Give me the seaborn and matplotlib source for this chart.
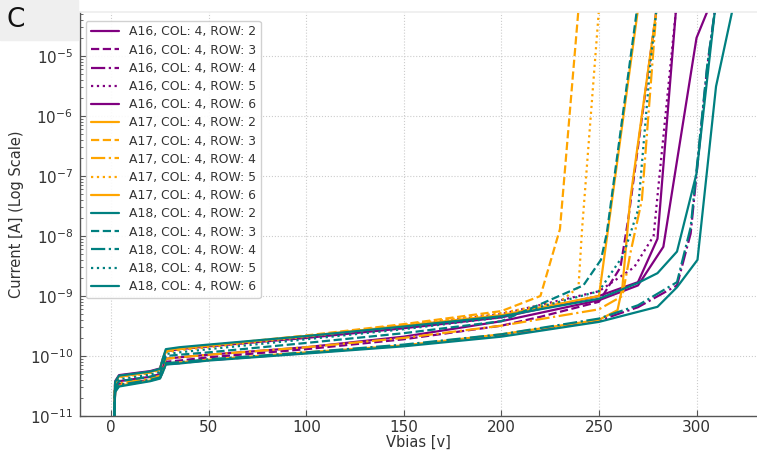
import matplotlib
matplotlib.use("Agg")
import matplotlib.pyplot as plt
import numpy as np
import pandas as pd
import seaborn as sns

# shared low-voltage sampling (V)
V_LOW = [1.5, 2, 4, 20, 25, 26.5, 28, 35, 50, 100, 150, 200]

# currents (A), low part + breakdown tail per curve
A16_R2_LOW = [8e-12, 3.8e-11, 4.8e-11, 5.6e-11, 6.2e-11, 9e-11, 1.2e-10, 1.3e-10, 1.45e-10, 2.0e-10, 2.9e-10, 4.4e-10]
A16_R2_TV = [250, 270, 280, 289.5]
A16_R2_TI = [1.0e-9, 1.7e-9, 9e-9, 6e-5]

A16_R3_LOW = [8e-12, 2.8e-11, 3.4e-11, 4.0e-11, 4.5e-11, 6e-11, 8e-11, 8.4e-11, 9.5e-11, 1.3e-10, 1.9e-10, 3.2e-10]
A16_R3_TV = [220, 250, 261, 265, 279.5]
A16_R3_TI = [4.5e-10, 8e-10, 3e-9, 1.9e-8, 6e-5]

A16_R4_LOW = [8e-12, 2.6e-11, 3.2e-11, 3.9e-11, 4.3e-11, 5.5e-11, 7.3e-11, 7.6e-11, 8.5e-11, 1.12e-10, 1.5e-10, 2.2e-10]
A16_R4_TV = [250, 270, 290, 297, 305.5, 309.5]
A16_R4_TI = [3.9e-10, 6.5e-10, 1.5e-9, 1.1e-8, 6.6e-6, 6e-5]

A16_R5_LOW = [8e-12, 3.6e-11, 4.6e-11, 5.4e-11, 6.0e-11, 8.8e-11, 1.2e-10, 1.3e-10, 1.45e-10, 2.1e-10, 3.2e-10, 5.0e-10]
A16_R5_TV = [250, 268, 278, 281, 289.5]
A16_R5_TI = [1.2e-9, 3e-9, 1e-8, 1e-7, 6e-5]

A16_R6_LOW = [8e-12, 3.0e-11, 3.8e-11, 4.5e-11, 5.0e-11, 6.5e-11, 9e-11, 9.5e-11, 1.05e-10, 1.4e-10, 2.1e-10, 3.8e-10]
A16_R6_TV = [250, 270, 283, 300, 306]
A16_R6_TI = [8.5e-10, 1.5e-9, 6.6e-9, 2e-5, 6e-5]

A17_R2_LOW = [8e-12, 3.6e-11, 4.6e-11, 5.4e-11, 6.0e-11, 9e-11, 1.25e-10, 1.35e-10, 1.5e-10, 2.15e-10, 3.2e-10, 4.8e-10]
A17_R2_TV = [250, 270]
A17_R2_TI = [1.0e-9, 6e-5]

A17_R3_LOW = [8e-12, 3.5e-11, 4.5e-11, 5.3e-11, 5.9e-11, 8.8e-11, 1.2e-10, 1.3e-10, 1.5e-10, 2.2e-10, 3.4e-10, 5.6e-10]
A17_R3_TV = [220, 230, 239.5]
A17_R3_TI = [1.0e-9, 1.3e-8, 6e-5]

A17_R4_LOW = [8e-12, 2.8e-11, 3.5e-11, 4.2e-11, 4.7e-11, 6.5e-11, 9e-11, 9.5e-11, 1.05e-10, 1.4e-10, 2.0e-10, 3.2e-10]
A17_R4_TV = [250, 262, 266, 272, 279.5]
A17_R4_TI = [6e-10, 1.0e-9, 5e-9, 4e-8, 6e-5]

A17_R5_LOW = [8e-12, 3.4e-11, 4.4e-11, 5.2e-11, 5.8e-11, 8.5e-11, 1.15e-10, 1.25e-10, 1.4e-10, 2.1e-10, 3.3e-10, 5.2e-10]
A17_R5_TV = [230, 239.5, 241.3, 250]
A17_R5_TI = [8e-10, 1.4e-9, 1.25e-8, 6e-5]

A17_R6_LOW = [8e-12, 2.6e-11, 3.2e-11, 3.9e-11, 4.3e-11, 5.6e-11, 7.5e-11, 7.8e-11, 8.7e-11, 1.15e-10, 1.5e-10, 2.3e-10]
A17_R6_TV = [250, 259.5, 262, 266, 279.5]
A17_R6_TI = [4.0e-10, 5.8e-10, 1.4e-9, 4e-8, 6e-5]

A18_R2_LOW = [8e-12, 3.7e-11, 4.7e-11, 5.5e-11, 6.1e-11, 9.2e-11, 1.3e-10, 1.4e-10, 1.55e-10, 2.15e-10, 3.1e-10, 4.6e-10]
A18_R2_TV = [250, 270, 280, 290, 300, 309.5]
A18_R2_TI = [9e-10, 1.65e-9, 2.4e-9, 5.5e-9, 1.1e-7, 6e-5]

A18_R3_LOW = [8e-12, 3.0e-11, 3.8e-11, 4.5e-11, 5.0e-11, 7e-11, 1.0e-10, 1.05e-10, 1.15e-10, 1.65e-10, 2.4e-10, 3.8e-10]
A18_R3_TV = [242, 251, 254, 269.5]
A18_R3_TI = [1.5e-9, 4e-9, 1.1e-8, 6e-5]

A18_R4_LOW = [8e-12, 2.7e-11, 3.3e-11, 4.0e-11, 4.4e-11, 5.7e-11, 7.6e-11, 7.9e-11, 8.8e-11, 1.15e-10, 1.55e-10, 2.3e-10]
A18_R4_TV = [250, 270, 290, 297, 305.5, 309.5]
A18_R4_TI = [4.2e-10, 7e-10, 1.7e-9, 1.4e-8, 7e-6, 6e-5]

A18_R5_LOW = [8e-12, 3.2e-11, 4.1e-11, 4.9e-11, 5.4e-11, 7.8e-11, 1.08e-10, 1.15e-10, 1.3e-10, 1.9e-10, 2.8e-10, 4.4e-10]
A18_R5_TV = [250, 262.5, 270, 276.5, 279.5]
A18_R5_TI = [1.2e-9, 4.8e-9, 2.7e-8, 8.5e-6, 6e-5]

A18_R6_LOW = [8e-12, 2.5e-11, 3.1e-11, 3.8e-11, 4.2e-11, 5.4e-11, 7.2e-11, 7.5e-11, 8.4e-11, 1.1e-10, 1.45e-10, 2.1e-10]
A18_R6_TV = [250, 280, 290, 300.5, 310, 318.5]
A18_R6_TI = [3.7e-10, 6.6e-10, 1.4e-9, 4e-9, 3.1e-6, 6e-5]

SENSORS = ["A16", "A17", "A18"]
ROWS = [2, 3, 4, 5, 6]
COLORS = {"A16": "#800080", "A17": "#FFA500", "A18": "#008080"}
STYLES = {2: "-", 3: "--", 4: "-.", 5: ":", 6: "-"}

CURVES = {
    ("A16", 2): (A16_R2_LOW, A16_R2_TV, A16_R2_TI),
    ("A16", 3): (A16_R3_LOW, A16_R3_TV, A16_R3_TI),
    ("A16", 4): (A16_R4_LOW, A16_R4_TV, A16_R4_TI),
    ("A16", 5): (A16_R5_LOW, A16_R5_TV, A16_R5_TI),
    ("A16", 6): (A16_R6_LOW, A16_R6_TV, A16_R6_TI),
    ("A17", 2): (A17_R2_LOW, A17_R2_TV, A17_R2_TI),
    ("A17", 3): (A17_R3_LOW, A17_R3_TV, A17_R3_TI),
    ("A17", 4): (A17_R4_LOW, A17_R4_TV, A17_R4_TI),
    ("A17", 5): (A17_R5_LOW, A17_R5_TV, A17_R5_TI),
    ("A17", 6): (A17_R6_LOW, A17_R6_TV, A17_R6_TI),
    ("A18", 2): (A18_R2_LOW, A18_R2_TV, A18_R2_TI),
    ("A18", 3): (A18_R3_LOW, A18_R3_TV, A18_R3_TI),
    ("A18", 4): (A18_R4_LOW, A18_R4_TV, A18_R4_TI),
    ("A18", 5): (A18_R5_LOW, A18_R5_TV, A18_R5_TI),
    ("A18", 6): (A18_R6_LOW, A18_R6_TV, A18_R6_TI),
}


def main() -> None:
    sns.set_theme(style="whitegrid")
    plt.rcParams["font.family"] = ["DejaVu Sans"]

    fig = plt.figure(figsize=(7.57, 4.54), dpi=100)
    ax = fig.add_axes([80 / 757, 38 / 454, 677 / 757, 404 / 454])

    for sensor in SENSORS:
        for row in ROWS:
            low, tv, ti = CURVES[(sensor, row)]
            v = np.array(V_LOW + tv, dtype=float)
            i = np.array(low + ti, dtype=float)
            df = pd.DataFrame({"V": v, "I": i})
            sns.lineplot(
                data=df, x="V", y="I", ax=ax, color=COLORS[sensor],
                linestyle=STYLES[row], linewidth=1.6, estimator=None, sort=False,
                label=f"{sensor}, COL: 4, ROW: {row}",
            )

    ax.set_yscale("log")
    ax.set_xlim(-16, 331)
    ax.set_ylim(1e-11, 5.4e-5)
    ax.set_xticks([0, 50, 100, 150, 200, 250, 300])
    ax.set_xlabel("Vbias [v]", fontsize=10.5, color="#333333", labelpad=0)
    ax.set_ylabel("Current [A] (Log Scale)", fontsize=10.5, color="#333333", labelpad=4)
    ax.tick_params(axis="both", labelsize=11, labelcolor="#333333", direction="in",
                   length=4, width=0.8, color="#555555")
    ax.tick_params(axis="y", which="minor", direction="in", length=2, width=0.6,
                   color="#555555", left=True)
    ax.tick_params(axis="x", bottom=True, pad=3)
    ax.tick_params(axis="y", left=True, pad=5)
    ax.grid(True, which="major", color="#cccccc", linestyle=":", linewidth=0.8)
    ax.grid(False, which="minor")
    for side in ["left", "bottom"]:
        ax.spines[side].set_color("#555555")
        ax.spines[side].set_linewidth(1.0)
    ax.spines["top"].set_color("#eeeeee")
    ax.spines["right"].set_visible(False)

    leg = ax.legend(loc="upper left", bbox_to_anchor=(0.005, 0.985), fontsize=8.9,
                    labelspacing=0.42, handlelength=2.3, frameon=True,
                    borderpad=0.4, handletextpad=0.75, borderaxespad=0.2)
    leg.get_frame().set_edgecolor("#cccccc")
    leg.get_frame().set_facecolor("white")
    leg.get_frame().set_alpha(0.9)
    for t in leg.get_texts():
        t.set_color("#333333")

    fig.patches.append(plt.Rectangle((0, 1 - 40 / 454), 78 / 757, 40 / 454,
                                     transform=fig.transFigure, color="#efefef", zorder=0))
    fig.text(6 / 757, 1 - 20 / 454, "C", fontsize=19, va="center", ha="left", color="#111111")

    fig.savefig("out.png", dpi=100)
    plt.close(fig)


if __name__ == "__main__":
    main()
